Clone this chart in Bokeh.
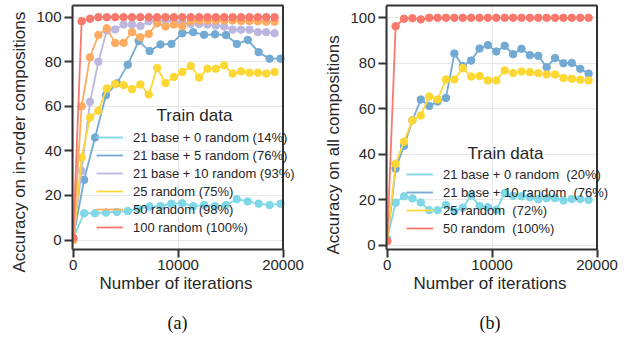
from bokeh.plotting import figure
from bokeh.layouts import row
from bokeh.models import (Range1d, Legend, LegendItem, Label, FixedTicker, Title,
                          LinearAxis, Span, BoxAnnotation)
from bokeh.embed import file_html
from bokeh.resources import INLINE

# ---------------- data ----------------
iters_800 = [0, 800, 1600, 2400, 3200, 4000, 4800, 5600, 6400, 7200, 8000, 8800, 9600,
             10400, 11200, 12000, 12800, 13600, 14400, 15200, 16000, 16800, 17600, 18400, 19200]
iters_1040 = [0, 1040, 2080, 3120, 4160, 5200, 6240, 7280, 8320, 9360, 10400, 11440, 12480,
              13520, 14560, 15600, 16640, 17680, 18720, 19760]

# panel (a): accuracy on in-order compositions
a_base0 = [1, 12, 12, 12.3, 12.6, 13, 14, 15, 15.2, 16.3, 16.5, 15.2, 15.7, 15.2, 15.7,
           18.3, 17.3, 16.3, 15.7, 16.3]
a_base5 = [1, 27, 46, 65, 70.3, 78.7, 89.3, 84.8, 87.8, 88, 92.8, 93.3, 92.1, 92.3, 92,
           88, 89.8, 84.3, 81.4, 81.4]
a_base10 = [0, 31, 62, 80, 94, 94.5, 96.7, 96.7, 96, 98.2, 98.4, 98.4, 98.4, 97.5, 97, 97,
            96.7, 96.3, 95.8, 94.4, 94.4, 94.4, 93.3, 93.3, 92.8]
a_rand25 = [0, 37, 55, 58, 68, 70, 69.5, 67.7, 69.8, 65.3, 77.2, 70.5, 73.2, 75.4, 78.1,
            72.9, 76.9, 76.9, 78.4, 74.7, 75.7, 75.1, 75.1, 74.7, 75.4]
a_rand50 = [0, 60, 82, 92, 95, 88.4, 88.5, 93.3, 91, 92.5, 97.3, 95.8, 96.7, 96, 98.3, 98.5,
            98.5, 98.5, 98.5, 98.5, 98.3, 98.3, 98.2, 98, 98]
a_rand100 = [1, 98.2, 99.3, 100, 100, 100, 100, 100, 100, 100, 100, 100, 100, 100, 100, 100,
             100, 100, 100, 100, 100, 100, 100, 100, 100]

# panel (b): accuracy on all compositions
b_base0 = [3, 18.8, 21.6, 20.7, 18.9, 15.5, 15.5, 17.8, 15, 16.6, 22, 17.3, 16.8, 15.7, 23,
           21.8, 21.6, 21.2, 20.3, 20.8, 20.8, 19.8, 20.4, 20.4, 20]
b_base10 = [2, 33.7, 43.7, 55, 64.1, 61.3, 63.2, 64.8, 84.3, 78.8, 81.2, 86.5, 88, 85.2,
            87.7, 84, 86.4, 83.6, 83.3, 78.3, 82.3, 80, 80.2, 77.6, 75.5]
b_rand25 = [2, 35.9, 45.6, 55, 57.1, 65.4, 64.1, 72.9, 72.9, 77.9, 74.2, 74.4, 72.5, 72.5,
            76.9, 75.7, 76.4, 76.1, 75.7, 75.1, 75.1, 73.6, 73.2, 72.8, 72.5]
b_rand50 = [2, 96.3, 99.6, 99.8, 99.3, 100, 100, 100, 100, 100, 100, 100, 100, 100, 100, 100,
            100, 100, 100, 100, 100, 100, 100, 100, 100]

labels_a = ["21 base + 0 random (14%)", "21 base + 5 random (76%)",
            "21 base + 10 random (93%)", "25 random (75%)", "50 random (98%)",
            "100 random (100%)"]
labels_b = ["21 base + 0 random  (20%)", "21 base + 10 random  (76%)",
            "25 random  (72%)", "50 random  (100%)"]

x_ticks = [0, 10000, 20000]
y_ticks = [0, 20, 40, 60, 80, 100]
X_MIN, X_MAX = -70, 20000

C_CYAN = "#7fd7e7"
C_BLUE = "#73aad4"
C_PURPLE = "#bdb7df"
C_YELLOW = "#fdd835"
C_ORANGE = "#fcab60"
C_RED = "#f8786b"
DARK = "#333333"
TXT = "#262626"
FONT = "Liberation Sans"

H = 338
TOP = 5
FRAME_BOTTOM = 249


def make_fig(width, b_left, b_right, vis_w, ylab, yr, ylab_offset, caption, cap_offset,
             xlab_offset):
    frame_w = width - b_left - b_right
    upp = (X_MAX - X_MIN) / vis_w
    x_end = X_MIN + upp * frame_w
    p = figure(width=width, height=H, output_backend="svg", toolbar_location=None,
               x_range=Range1d(X_MIN, x_end), y_range=Range1d(*yr),
               min_border_left=b_left, min_border_right=b_right,
               min_border_top=TOP, min_border_bottom=H - FRAME_BOTTOM)
    p.outline_line_color = None
    p.background_fill_color = "white"
    p.border_fill_color = "white"
    for ax in (p.xaxis[0], p.yaxis[0]):
        ax.axis_line_color = DARK
        ax.axis_line_width = 2
        ax.major_tick_line_color = DARK
        ax.major_tick_line_width = 2
        ax.major_tick_out = 8
        ax.major_tick_in = 0
        ax.minor_tick_line_color = None
        ax.major_label_text_font = FONT
        ax.major_label_text_font_size = "15px"
        ax.major_label_text_color = TXT
    p.xaxis.ticker = FixedTicker(ticks=x_ticks)
    p.yaxis.ticker = FixedTicker(ticks=y_ticks)
    p.xaxis.bounds = (X_MIN, X_MAX)
    p.xaxis.major_label_standoff = 2
    p.yaxis.major_label_standoff = 3
    p.xgrid.ticker = FixedTicker(ticks=x_ticks)
    p.ygrid.ticker = FixedTicker(ticks=y_ticks)
    p.grid.grid_line_color = "#e8e8e8"
    p.grid.grid_line_width = 1

    # top and right edges of the box
    top_ax = LinearAxis(ticker=FixedTicker(ticks=[]), bounds=(X_MIN, X_MAX),
                        axis_line_color=DARK, axis_line_width=2, major_tick_out=0,
                        major_tick_in=0, minor_tick_line_color=None,
                        major_label_standoff=0)
    p.add_layout(top_ax, "above")
    p.add_layout(BoxAnnotation(left=X_MAX, fill_color="white", fill_alpha=1,
                               line_alpha=0, level="underlay"))
    p.add_layout(Span(location=X_MAX, dimension="height", line_color=DARK,
                      line_width=2))

    # axis titles and caption
    p.add_layout(Title(text=ylab, align="left", offset=ylab_offset, standoff=8,
                       vertical_align="middle", text_font=FONT, text_font_size="17px",
                       text_font_style="normal", text_color=TXT), "left")
    p.add_layout(Title(text="Number of iterations", align="left", offset=xlab_offset,
                       standoff=0, vertical_align="middle", text_font=FONT,
                       text_font_size="17px", text_font_style="normal",
                       text_color=TXT), "below")
    p.add_layout(Title(text=" ", align="left", standoff=4, text_font=FONT,
                       text_font_size="9px", text_color="white"), "below")
    p.add_layout(Title(text=caption, align="left", offset=cap_offset, standoff=4,
                       vertical_align="middle", text_font="Liberation Serif",
                       text_font_size="18px", text_font_style="normal",
                       text_color="#111111"), "below")
    return p


def add_series(p, xs, ys, color):
    r = p.line(xs, ys, line_color=color, line_width=1.8)
    p.scatter(xs, ys, size=7.5, fill_color=color, line_color=color)
    return r


def add_legend(p, renderers, labels, vx, vy, title_x, title_y):
    items = [LegendItem(label=l, renderers=[r]) for l, r in zip(labels, renderers)]
    leg = Legend(items=items, location=(vx, vy), padding=0, margin=0, spacing=0,
                 glyph_width=27, glyph_height=18, label_height=18, label_standoff=10,
                 label_text_font=FONT, label_text_font_size="13px",
                 label_text_color=TXT, background_fill_alpha=0,
                 border_line_alpha=0)
    p.add_layout(leg, "center")
    p.add_layout(Label(x=title_x, y=title_y, x_units="screen", y_units="screen",
                       text="Train data", text_font=FONT, text_font_size="17px",
                       text_color=TXT, text_align="center",
                       text_baseline="middle"))


# ---------------- panel (a) ----------------
pa = make_fig(313, 72, 17, 210.5, "Accuracy on in-order compositions", (-4.26, 105.25),
              -23, "(a)", 95, 27)
ra = [
    add_series(pa, iters_1040, a_base0, C_CYAN),
    add_series(pa, iters_1040, a_base5, C_BLUE),
    add_series(pa, iters_800, a_base10, C_PURPLE),
    add_series(pa, iters_800, a_rand25, C_YELLOW),
    add_series(pa, iters_800, a_rand50, C_ORANGE),
    add_series(pa, iters_800, a_rand100, C_RED),
]
add_legend(pa, ra, labels_a, 24, 13, 122, 134)

# ---------------- panel (b) ----------------
pb = make_fig(311, 73, 14, 210.5, "Accuracy on all compositions", (-1.76, 105.4),
              -5, "(b)", 93, 27)
rb = [
    add_series(pb, iters_800, b_base0, C_CYAN),
    add_series(pb, iters_800, b_base10, C_BLUE),
    add_series(pb, iters_800, b_rand25, C_YELLOW),
    add_series(pb, iters_800, b_rand50, C_RED),
]
add_legend(pb, rb, labels_b, 20, 12, 119, 96)

layout = row(pa, pb)
open("out.html", "w").write(file_html(layout, INLINE))
